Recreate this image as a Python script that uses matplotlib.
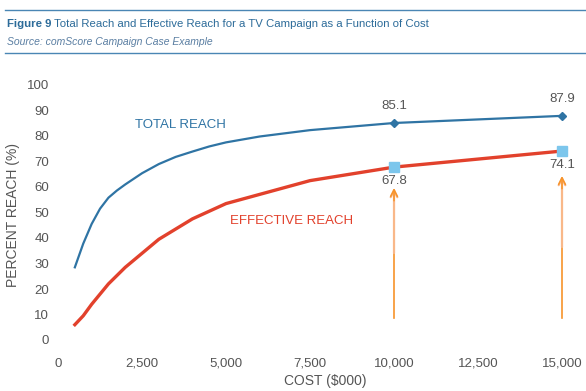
import matplotlib.pyplot as plt

plt.rcParams['font.family'] = ['Liberation Sans', 'DejaVu Sans']

cost = [500, 750, 1000, 1250, 1500, 1750, 2000, 2500, 3000, 3500, 4000, 4500, 5000, 6000, 7500, 10000, 15000]
total_reach = [28.5, 37.8, 45.5, 51.5, 55.8, 58.6, 61, 65.4, 69, 71.8, 73.9, 75.9, 77.5, 79.8, 82.3, 85.1, 87.9]

eff_cost = [500, 750, 1000, 1500, 2000, 2500, 3000, 4000, 5000, 7500, 10000, 15000]
effective_reach = [6, 9.5, 14, 22, 28.5, 34, 39.5, 47.5, 53.5, 62.5, 67.8, 74.1]

marked_cost = [10000, 15000]
marked_total = [85.1, 87.9]
marked_effective = [67.8, 74.1]
arrow_tips = [59.6, 64.3]
arrow_base = 8.6

xticks = [0, 2500, 5000, 7500, 10000, 12500, 15000]
yticks = list(range(0, 101, 10))

BLUE = '#2f74a4'
RED = '#e2412c'
SQ = '#7cc6ec'
ORANGE = '#f7942a'
LIGHT_OR = '#f9b889'
GREY = '#555555'
TITLE = '#2c6b99'

fig = plt.figure(figsize=(5.86, 3.91), dpi=100)
ax = fig.add_axes([52 / 586, 1 - 345.1 / 391, (578.8 - 52) / 586, (345.1 - 79.9) / 391])
ax.set_xlim(-180, 15500)
ax.set_ylim(-2, 102)
for s in ax.spines.values():
    s.set_visible(False)
ax.set_xticks(xticks)
ax.set_xticklabels([f'{v:,}' for v in xticks])
ax.set_yticks(yticks)
ax.tick_params(length=0, labelsize=9.5, labelcolor=GREY)
ax.tick_params(axis='x', pad=9)
ax.tick_params(axis='y', pad=2)

# orange arrows
for xc, tip in zip(marked_cost, arrow_tips):
    mid = (tip + arrow_base) / 2
    ax.plot([xc, xc], [arrow_base, mid], color=ORANGE, lw=1.2, zorder=1)
    ax.annotate('', xy=(xc, tip), xytext=(xc, mid),
                arrowprops=dict(arrowstyle='->', color=LIGHT_OR, lw=1.6,
                                shrinkA=0, shrinkB=0, mutation_scale=12))
    ax.annotate('', xy=(xc, tip), xytext=(xc, tip - 5),
                arrowprops=dict(arrowstyle='->', color=ORANGE, lw=1.1,
                                shrinkA=0, shrinkB=0, mutation_scale=12))

ax.plot(cost, total_reach, color=BLUE, lw=1.6, zorder=3, solid_joinstyle='round')
ax.plot(eff_cost, effective_reach, color=RED, lw=2.4, zorder=3, solid_joinstyle='round')
ax.plot(marked_cost, marked_total, 'D', color=BLUE, ms=4, zorder=4, clip_on=False)
ax.plot(marked_cost, marked_effective, 's', color=SQ, ms=7.5, zorder=4, clip_on=False)

for xc, v in zip(marked_cost, marked_total):
    ax.annotate(f'{v}', (xc, v), xytext=(0, 8), textcoords='offset points',
                ha='center', va='bottom', fontsize=9.5, color=GREY)
for xc, v in zip(marked_cost, marked_effective):
    ax.annotate(f'{v}', (xc, v), xytext=(0, -6), textcoords='offset points',
                ha='center', va='top', fontsize=9.5, color=GREY)

ax.text(3650, 84.5, 'TOTAL REACH', color=BLUE, fontsize=9.5, ha='center', va='center')
ax.text(6950, 46.5, 'EFFECTIVE REACH', color=RED, fontsize=9.5, ha='center', va='center')

fig.text(13 / 586, 1 - 215 / 391, 'PERCENT REACH (%)', rotation=90, ha='center', va='center',
         fontsize=10, color=GREY)
fig.text(325 / 586, 1 - 381 / 391, 'COST ($000)', ha='center', va='center',
         fontsize=10, color=GREY)

# header
fig.add_artist(plt.Line2D([5 / 586, 1], [1 - 10 / 391] * 2, color='#4a86b4', lw=1))
fig.add_artist(plt.Line2D([5 / 586, 1], [1 - 53 / 391] * 2, color='#4a86b4', lw=1))
t1 = fig.text(7 / 586, 1 - 24 / 391, 'Figure 9', fontweight='bold', fontsize=8.2,
              color=TITLE, va='center')
fig.canvas.draw()
bb = t1.get_window_extent()
fig.text((bb.x1 + 3) / 586, 1 - 24 / 391,
         'Total Reach and Effective Reach for a TV Campaign as a Function of Cost',
         fontsize=8.2, color=TITLE, va='center')
fig.text(7 / 586, 1 - 42 / 391, 'Source: comScore Campaign Case Example', fontstyle='italic',
         fontsize=7.5, color='#5a7ea2', va='center')

fig.savefig('out.png', dpi=100)
